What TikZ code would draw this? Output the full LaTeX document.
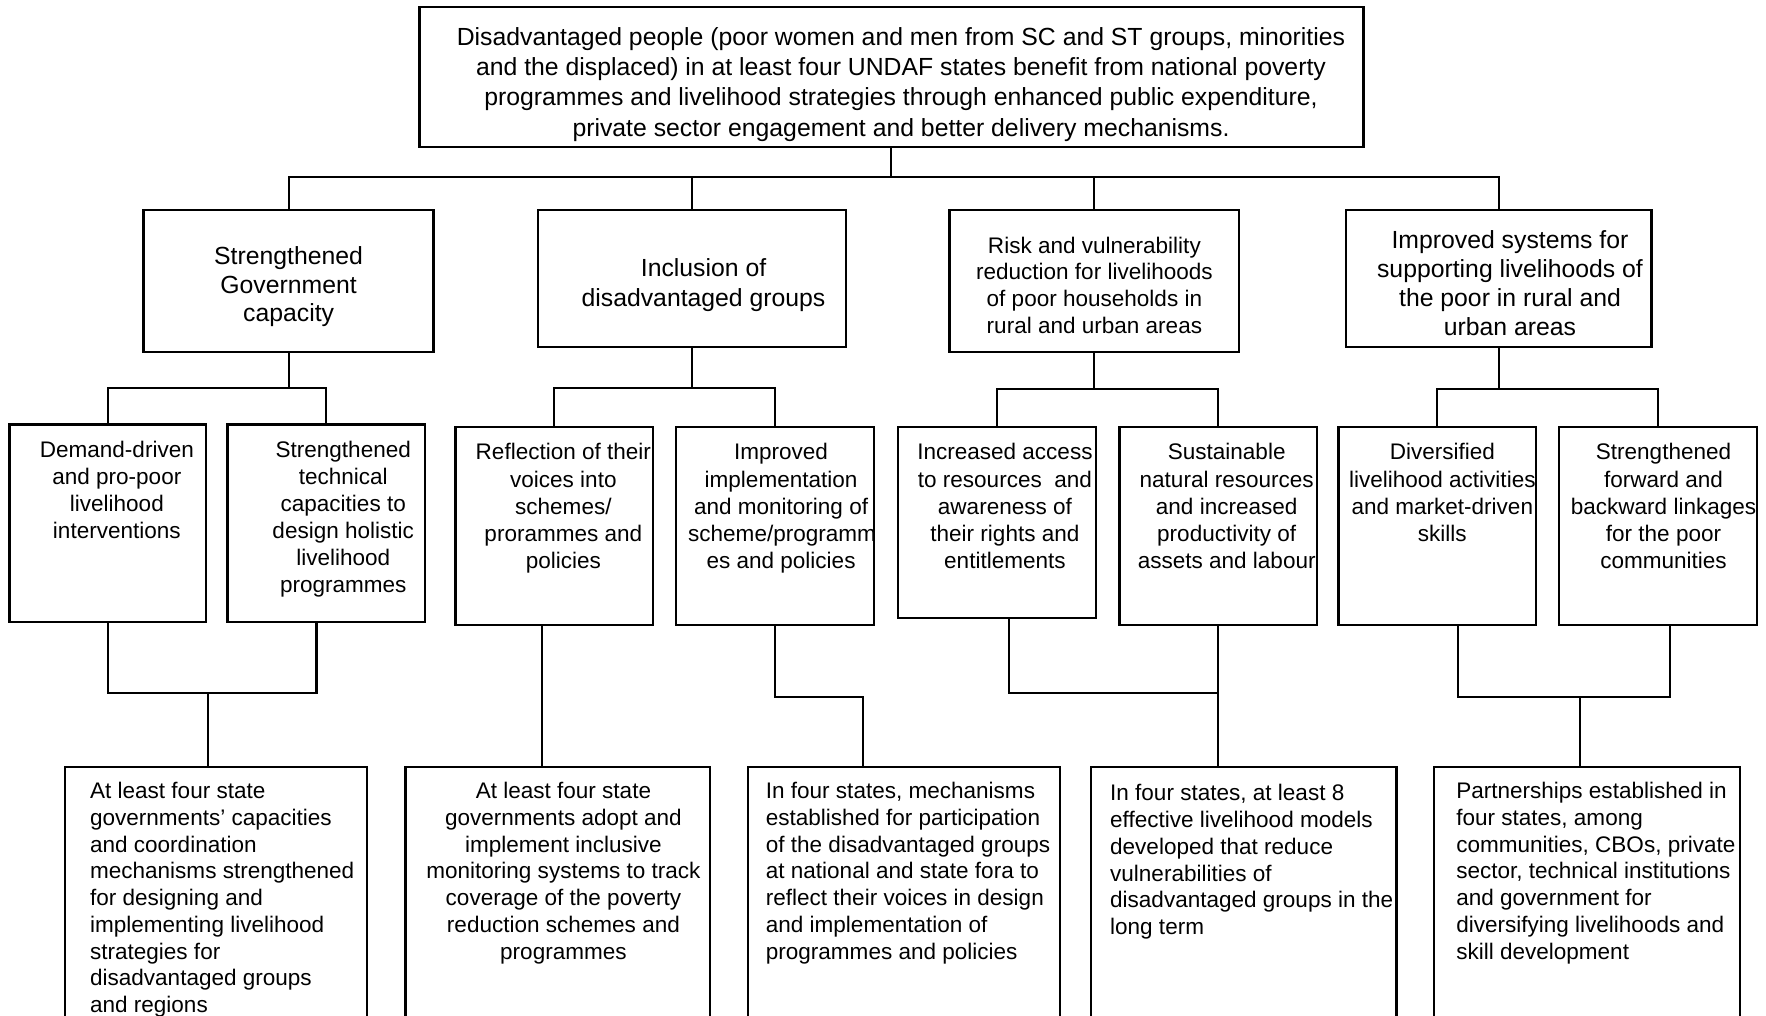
\documentclass[tikz,border=0pt]{standalone}
\usepackage{fontspec}
\setmainfont{Liberation Sans}
% centred text box: width, height, left shift, font size, baseline skip, first baseline, text
\newcommand{\cbox}[7]{\parbox[t][#2pt][t]{#1pt}{\centering\leftskip=#3pt plus 1fil\fontsize{#4pt}{#5pt}\selectfont\rule{0pt}{#6pt}#7}}
% left-aligned text box
\newcommand{\lbox}[7]{\parbox[t][#2pt][t]{#1pt}{\raggedright\leftskip=#3pt\fontsize{#4pt}{#5pt}\selectfont\rule{0pt}{#6pt}#7}}
\tikzset{
  bx/.style={draw, line width=2pt, inner sep=0pt, outer sep=0pt, anchor=north west},
  ln/.style={line width=1.8pt, line join=miter}
}
\begin{document}
\begin{tikzpicture}[x=1pt,y=-1pt]
\useasboundingbox (0,0) rectangle (1568,902);
\fill[white] (0,0) rectangle (1568,902);
\clip (0,0) rectangle (1568,902);

% top goal
\node[bx] (top) at (372.5,6.5) {\cbox{838}{123.7}{17}{22}{27}{33.5}{Disadvantaged people (poor women and men from SC and ST groups, minorities\\and the displaced) in at least four UNDAF states benefit from national poverty\\programmes and livelihood strategies through enhanced public expenditure,\\private sector engagement and better delivery mechanisms.}};

% level 2
\node[bx] (ga) at (127.5,186.4) {\cbox{257.5}{125.8}{0}{22}{25.2}{48.8}{Strengthened\\Government\\capacity}};
\node[bx] (gb) at (477.4,186.4) {\cbox{273.5}{122}{21}{22}{26.6}{59.2}{Inclusion of\\disadvantaged groups}};
\node[bx] (gc) at (843,186.4) {\cbox{257.4}{125.8}{0}{20}{23.7}{38.5}{Risk and vulnerability\\reduction for livelihoods\\of poor households in\\rural and urban areas}};
\node[bx] (gd) at (1195,186.4) {\cbox{271.4}{122}{20}{22}{25.7}{34}{Improved systems for\\supporting livelihoods of\\the poor in rural and\\urban areas}};

% level 3
\node[bx] (b1) at (8.5,377) {\cbox{174.5}{175}{16}{20}{24}{29}{Demand-driven\\and pro-poor\\livelihood\\interventions}};
\node[bx] (b2) at (202,377) {\cbox{175.5}{175}{30}{20}{24}{29}{Strengthened\\technical\\capacities to\\design holistic\\livelihood\\programmes}};
\node[bx] (b3) at (404.4,379.4) {\cbox{175.6}{175.6}{16}{20}{24}{29}{Reflection of their\\voices into\\schemes/\\prorammes and\\policies}};
\node[bx] (b4) at (600,379.4) {\cbox{176}{175.6}{11}{20}{24}{29}{Improved\\implementation\\and monitoring of\\scheme/programm\\es and policies}};
\node[bx] (b5) at (797.5,379.4) {\cbox{175.5}{169.6}{14}{20}{24}{29}{Increased access\\to resources\ \ and\\awareness of\\their rights and\\entitlements}};
\node[bx] (b6) at (994,379.4) {\cbox{175.3}{175.6}{15}{20}{24}{29}{Sustainable\\natural resources\\and increased\\productivity of\\assets and labour}};
\node[bx] (b7) at (1188.4,379.4) {\cbox{175.4}{175.6}{9}{20}{24}{29}{Diversified\\livelihood activities\\and market-driven\\skills}};
\node[bx] (b8) at (1384,379.4) {\cbox{176}{175.6}{10}{20}{24}{29}{Strengthened\\forward and\\backward linkages\\for the poor\\communities}};

% level 4
\node[bx] (l1) at (57.5,681) {\lbox{268.5}{240}{22.5}{20}{23.75}{28}{At least four state\\governments’ capacities\\and coordination\\mechanisms strengthened\\for designing and\\implementing livelihood\\strategies for\\disadvantaged groups\\and regions}};
\node[bx] (l2) at (360,681) {\cbox{270.5}{240}{10}{20}{23.75}{28}{At least four state\\governments adopt and\\implement inclusive\\monitoring systems to track\\coverage of the poverty\\reduction schemes and\\programmes}};
\node[bx] (l3) at (664,681) {\lbox{277}{240}{16}{20}{23.75}{28}{In four states, mechanisms\\established for participation\\of the disadvantaged groups\\at national and state fora to\\reflect their voices in design\\and implementation of\\programmes and policies}};
\node[bx] (l4) at (968.7,681) {\lbox{271.3}{240}{17}{20}{23.75}{30}{In four states, at least 8\\effective livelihood models\\developed that reduce\\vulnerabilities of\\disadvantaged groups in the\\long term}};
\node[bx] (l5) at (1273,681) {\lbox{272}{240}{20}{20}{23.75}{28}{Partnerships established in\\four states, among\\communities, CBOs, private\\sector, technical institutions\\and government for\\diversifying livelihoods and\\skill development}};

% connectors: top -> level 2
\coordinate (bus1) at (0,157);
\draw[ln] (top.south) -- (top.south |- bus1);
\draw[ln] (ga.north) |- (gd.north |- bus1) -- (gd.north);
\draw[ln] (gb.north) -- (gb.north |- bus1);
\draw[ln] (gc.north) -- (gc.north |- bus1);

% level 2 -> level 3
\coordinate (busa) at (0,344.3);
\coordinate (busc) at (0,345.5);
\draw[ln] (ga.south) -- (ga.south |- busa);
\draw[ln] (b1.north) |- (b2.north |- busa) -- (b2.north);
\draw[ln] (gb.south) -- (gb.south |- busa);
\draw[ln] (b3.north) |- (b4.north |- busa) -- (b4.north);
\draw[ln] (gc.south) -- (gc.south |- busc);
\draw[ln] (b5.north) |- (b6.north |- busc) -- (b6.north);
\draw[ln] (gd.south) -- (gd.south |- busc);
\draw[ln] (b7.north) |- (b8.north |- busc) -- (b8.north);

% level 3 -> level 4
\coordinate (d2) at ([xshift=-8.75pt]b2.south);
\coordinate (d3) at ([xshift=-10.8pt]b3.south);
\coordinate (d5) at ([xshift=10.25pt]b5.south);
\coordinate (d7) at ([xshift=18.4pt]b7.south);
\coordinate (d8) at ([xshift=11pt]b8.south);
\coordinate (j1) at (185,615.6);
\coordinate (j2) at (766.4,618.5);
\coordinate (j3) at (0,615.6);
\coordinate (j4) at (1403,618.5);

\draw[ln] (b1.south) |- (d2 |- j1) -- (d2);
\draw[ln] (j1) -- (j1 |- l1.north);
\draw[ln] (d3) -- (d3 |- l2.north);
\draw[ln] (b4.south) |- (j2) -- (j2 |- l3.north);
\draw[ln] (d5) |- (b6.south |- j3);
\draw[ln] (b6.south) -- (b6.south |- l4.north);
\draw[ln] (d7) |- (d8 |- j4) -- (d8);
\draw[ln] (j4) -- (j4 |- l5.north);
\end{tikzpicture}
\end{document}
